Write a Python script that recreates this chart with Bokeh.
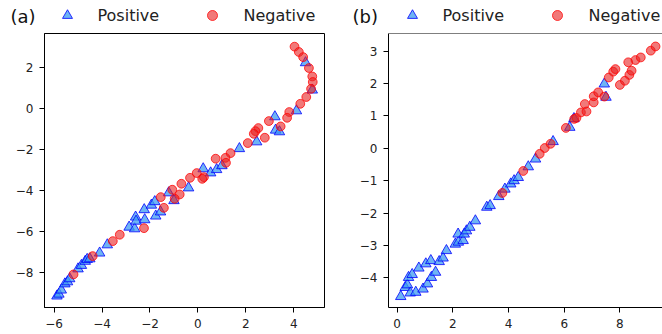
from bokeh.plotting import figure
from bokeh.layouts import row, column
from bokeh.models import FixedTicker, CustomJSTickFormatter, Span, Range1d
from bokeh.core.properties import value
from bokeh.embed import file_html
from bokeh.resources import INLINE

# ---------------- data ----------------
pos_a_x = [-5.88, -5.80, -5.70, -5.55, -5.44, -5.35, -5.00, -4.86, -4.70, -4.62, -4.51, -4.10, -3.78,
           -2.87, -2.64, -2.60, -2.58, -2.22, -2.24, -1.94, -1.80, -1.76, -1.56, -1.22, -1.00, -0.39,
           0.22, 0.53, 0.78, 1.00, 1.73, 2.45, 3.21, 3.24, 3.40, 4.11, 4.49, 4.77]
pos_a_y = [-9.14, -9.05, -8.85, -8.55, -8.45, -8.30, -7.82, -7.65, -7.45, -7.36, -7.33, -7.05, -6.65,
           -5.79, -5.87, -5.30, -5.50, -5.43, -4.94, -4.72, -4.55, -5.25, -5.05, -4.12, -4.50, -3.88,
           -2.95, -3.15, -2.99, -2.80, -1.97, -1.64, -0.42, -1.07, -1.15, -0.13, 2.21, 0.88]
neg_a_x = [4.03, 4.21, 4.39, 4.63, 4.77, 4.79, 4.72, 4.52, 4.27, 3.81, 3.72, 3.45, 2.96, 2.79, 2.52,
           2.40, 2.33, 2.08, 1.36, 1.15, 1.17, 0.74, 0.25, 0.18, -0.05, -0.33, -0.69, -0.76, -1.07,
           -0.97, -1.55, -1.42, -2.25, -3.26, -3.55, -4.39, -5.19]
neg_a_y = [2.99, 2.73, 2.48, 1.95, 1.54, 1.27, 0.94, 0.54, 0.21, -0.19, -0.47, -0.89, -0.63, -1.44, -0.97,
           -1.12, -1.25, -1.70, -2.19, -2.42, -2.66, -2.46, -3.36, -3.44, -3.16, -3.39, -3.68, -4.20, -3.97,
           -4.41, -4.33, -4.85, -5.84, -6.16, -6.47, -7.20, -8.09]

pos_b_x = [0.13, 0.29, 0.37, 0.47, 0.67, 0.41, 0.54, 0.78, 1.03, 1.21, 0.93, 1.09, 1.23, 1.38, 1.51,
           1.65, 1.77, 2.09, 2.20, 2.19, 2.37, 2.41, 2.49, 2.61, 2.81, 3.22, 3.34, 3.65, 3.87, 4.08,
           4.20, 4.35, 4.71, 4.97, 5.60, 6.20, 6.35, 7.44, 7.50]
pos_b_y = [-4.58, -4.30, -4.22, -4.47, -4.45, -3.99, -3.90, -3.70, -3.57, -3.47, -4.35, -4.19, -3.99, -3.83, -3.50,
           -3.39, -3.16, -2.96, -2.90, -2.65, -2.85, -2.65, -2.55, -2.44, -2.24, -1.82, -1.77, -1.49, -1.26, -1.10,
           -1.00, -0.90, -0.57, -0.33, 0.21, 0.65, 0.92, 1.99, 1.58]
neg_b_x = [3.78, 4.53, 5.12, 5.30, 5.51, 6.06, 6.36, 6.44, 6.60, 6.80, 6.74, 7.06, 7.06, 7.22, 7.44,
           7.60, 7.76, 7.84, 8.00, 8.18, 8.34, 8.42, 8.30, 8.56, 8.75, 9.11, 9.28]
neg_b_y = [-1.38, -0.70, -0.17, 0.01, 0.14, 0.63, 0.91, 0.94, 1.11, 1.14, 1.37, 1.42, 1.61, 1.73, 1.60,
           2.19, 2.37, 2.45, 1.96, 2.09, 2.27, 2.40, 2.66, 2.73, 2.81, 3.02, 3.15]

xticks_a = [-6, -4, -2, 0, 2, 4]
yticks_a = [-8, -6, -4, -2, 0, 2]
xticks_b = [0, 2, 4, 6, 8]
yticks_b = [-4, -3, -2, -1, 0, 1, 2, 3]
series_labels = ["Positive", "Negative"]
panel_labels = ["(a)", "(b)"]

FONT = "DejaVu Sans"
minus_fmt = "return String(tick).replace('-', '\u2212')"

POS_STYLE = dict(marker="triangle", fill_color="#3d9bf0", fill_alpha=0.75,
                 line_color="#0000ff", line_alpha=0.8, line_width=1)
NEG_STYLE = dict(marker="circle", fill_color="#e82020", fill_alpha=0.6,
                 line_color="#ff0000", line_alpha=0.75, line_width=1)


def style_axes(p, xt, yt):
    p.xgrid.visible = False
    p.ygrid.visible = False
    p.xaxis.ticker = FixedTicker(ticks=xt)
    p.yaxis.ticker = FixedTicker(ticks=yt)
    for ax in (p.xaxis[0], p.yaxis[0]):
        ax.formatter = CustomJSTickFormatter(code=minus_fmt)
        ax.axis_line_color = "black"
        ax.axis_line_width = 1
        ax.major_tick_line_color = "black"
        ax.major_tick_out = 5
        ax.major_tick_in = 0
        ax.minor_tick_line_color = None
        ax.major_label_text_font = FONT
        ax.major_label_text_font_size = "12px"
        ax.major_label_text_color = "#222222"
        ax.major_label_standoff = 6


def make_panel(width, bl, br, xr, yr, px, py, nx, ny, xt, yt):
    p = figure(width=width, height=305, output_backend="svg", toolbar_location=None,
               x_range=Range1d(*xr), y_range=Range1d(*yr),
               min_border_left=bl, min_border_right=br, min_border_top=4, min_border_bottom=27)
    style_axes(p, xt, yt)
    p.scatter(px, py, size=10.5, **POS_STYLE)
    p.scatter(nx, ny, size=8.8, **NEG_STYLE)
    return p


pa = make_panel(331, 44, 7, (-6.4, 5.28), (-9.70, 3.63),
                pos_a_x, pos_a_y, neg_a_x, neg_a_y, xticks_a, yticks_a)
pa.outline_line_color = "black"
pa.outline_line_width = 1
pa.outline_line_alpha = 1

pb = make_panel(331, 57, 0, (-0.31, 9.53), (-4.92, 3.55),
                pos_b_x, pos_b_y, neg_b_x, neg_b_y, xticks_b, yticks_b)
pb.outline_line_color = None
pb.add_layout(Span(location=3.55, dimension="width", line_color="black", line_width=1))

# ---------------- header strip: panel tags and legends ----------------
hdr = figure(width=662, height=29, output_backend="svg", toolbar_location=None,
             x_range=Range1d(0, 662), y_range=Range1d(29, 0),
             x_axis_type=None, y_axis_type=None,
             min_border_left=0, min_border_right=0, min_border_top=0, min_border_bottom=0)
hdr.outline_line_color = None
hdr.xgrid.visible = False
hdr.ygrid.visible = False

tag_x = [10, 352]
hdr.text(x=tag_x, y=[16, 16], text=panel_labels, text_font=value(FONT), text_font_size="18px",
         text_color="#111111", text_baseline="middle", text_align="left")
leg_offsets = [0, 345]
for off in leg_offsets:
    hdr.scatter(x=[67 + off], y=[15], size=10, **POS_STYLE)
    hdr.scatter(x=[212 + off], y=[15], size=10, **NEG_STYLE)
    hdr.text(x=[97 + off, 243 + off], y=[15, 15], text=series_labels, text_font=value(FONT),
             text_font_size="16px", text_color="#222222", text_baseline="middle", text_align="left")

layout = column(hdr, row(pa, pb))
open("out.html", "w").write(file_html(layout, INLINE))
